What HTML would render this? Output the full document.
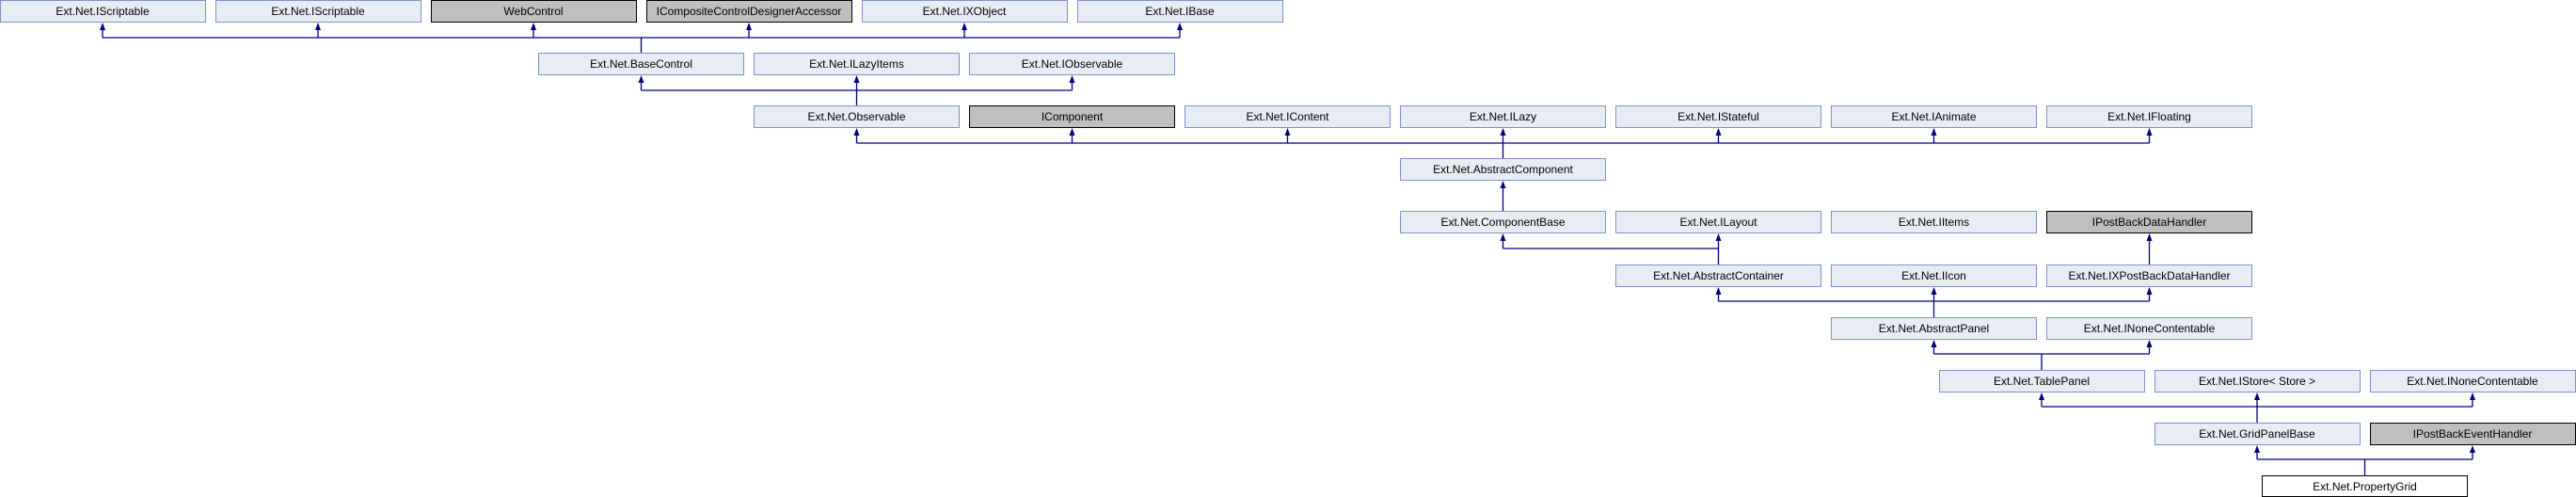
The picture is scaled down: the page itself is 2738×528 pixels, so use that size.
<!DOCTYPE html>
<html><head><meta charset="utf-8"><style>
html,body{margin:0;padding:0;background:#fff;}
svg{display:block;}
text{font-family:"Liberation Sans",Arial,sans-serif;font-size:12px;fill:#000;text-anchor:middle;}
.b{fill:#e8ecf5;stroke:#7f92c9;stroke-width:1;}
.g{fill:#bfbfbf;stroke:#000;stroke-width:1;}
.w{fill:#fff;stroke:#000;stroke-width:1;}
.l{stroke:#00007f;stroke-width:1.3;fill:none;}
.a{fill:#00007f;}
</style></head><body>
<svg width="2738" height="528" viewBox="0 0 2738 528" xmlns="http://www.w3.org/2000/svg">
<defs><polygon id="ar" class="a" points="0,0 -3,8 3,8"/></defs>
<!-- Row 0 -->
<rect class="b" x="0.5" y="0.5" width="218" height="23"/><text x="109" y="16">Ext.Net.IScriptable</text>
<rect class="b" x="229.5" y="0.5" width="218" height="23"/><text x="338" y="16">Ext.Net.IScriptable</text>
<rect class="g" x="458.5" y="0.5" width="218" height="23"/><text x="567" y="16">WebControl</text>
<rect class="g" x="687.5" y="0.5" width="218" height="23"/><text x="796" y="16">ICompositeControlDesignerAccessor</text>
<rect class="b" x="916.5" y="0.5" width="218" height="23"/><text x="1025" y="16">Ext.Net.IXObject</text>
<rect class="b" x="1145.5" y="0.5" width="218" height="23"/><text x="1254" y="16">Ext.Net.IBase</text>
<!-- Row 1 -->
<rect class="b" x="572.5" y="56.5" width="218" height="23"/><text x="681.5" y="72">Ext.Net.BaseControl</text>
<rect class="b" x="801.5" y="56.5" width="218" height="23"/><text x="910.5" y="72">Ext.Net.ILazyItems</text>
<rect class="b" x="1030.5" y="56.5" width="218" height="23"/><text x="1139.5" y="72">Ext.Net.IObservable</text>
<!-- Row 2 -->
<rect class="b" x="801.5" y="112.5" width="218" height="23"/><text x="910.5" y="128">Ext.Net.Observable</text>
<rect class="g" x="1030.5" y="112.5" width="218" height="23"/><text x="1139.5" y="128">IComponent</text>
<rect class="b" x="1259.5" y="112.5" width="218" height="23"/><text x="1368.5" y="128">Ext.Net.IContent</text>
<rect class="b" x="1488.5" y="112.5" width="218" height="23"/><text x="1597.5" y="128">Ext.Net.ILazy</text>
<rect class="b" x="1717.5" y="112.5" width="218" height="23"/><text x="1826.5" y="128">Ext.Net.IStateful</text>
<rect class="b" x="1946.5" y="112.5" width="218" height="23"/><text x="2055.5" y="128">Ext.Net.IAnimate</text>
<rect class="b" x="2175.5" y="112.5" width="218" height="23"/><text x="2284.5" y="128">Ext.Net.IFloating</text>
<!-- Row 3 -->
<rect class="b" x="1488.5" y="168.5" width="218" height="23"/><text x="1597.5" y="184">Ext.Net.AbstractComponent</text>
<!-- Row 4 -->
<rect class="b" x="1488.5" y="224.5" width="218" height="23"/><text x="1597.5" y="240">Ext.Net.ComponentBase</text>
<rect class="b" x="1717.5" y="224.5" width="218" height="23"/><text x="1826.5" y="240">Ext.Net.ILayout</text>
<rect class="b" x="1946.5" y="224.5" width="218" height="23"/><text x="2055.5" y="240">Ext.Net.IItems</text>
<rect class="g" x="2175.5" y="224.5" width="218" height="23"/><text x="2284.5" y="240">IPostBackDataHandler</text>
<!-- Row 5 -->
<rect class="b" x="1717.5" y="281.5" width="218" height="23"/><text x="1826.5" y="297">Ext.Net.AbstractContainer</text>
<rect class="b" x="1946.5" y="281.5" width="218" height="23"/><text x="2055.5" y="297">Ext.Net.IIcon</text>
<rect class="b" x="2175.5" y="281.5" width="218" height="23"/><text x="2284.5" y="297">Ext.Net.IXPostBackDataHandler</text>
<!-- Row 6 -->
<rect class="b" x="1946.5" y="337.5" width="218" height="23"/><text x="2055.5" y="353">Ext.Net.AbstractPanel</text>
<rect class="b" x="2175.5" y="337.5" width="218" height="23"/><text x="2284.5" y="353">Ext.Net.INoneContentable</text>
<!-- Row 7 -->
<rect class="b" x="2061.5" y="393.5" width="218" height="23"/><text x="2170" y="409">Ext.Net.TablePanel</text>
<rect class="b" x="2290.5" y="393.5" width="218" height="23"/><text x="2399" y="409">Ext.Net.IStore&lt; Store &gt;</text>
<rect class="b" x="2519.5" y="393.5" width="218" height="23"/><text x="2628" y="409">Ext.Net.INoneContentable</text>
<!-- Row 8 -->
<rect class="b" x="2290.5" y="449.5" width="218" height="23"/><text x="2399" y="465">Ext.Net.GridPanelBase</text>
<rect class="g" x="2519.5" y="449.5" width="218" height="23"/><text x="2628" y="465">IPostBackEventHandler</text>
<!-- Row 9 -->
<rect class="w" x="2404.5" y="505.5" width="218" height="22"/><text x="2513.5" y="521">Ext.Net.PropertyGrid</text>

<!-- Connectors -->
<path class="l" d="M109,40H1254 M109,26V40 M338,26V40 M567,26V40 M796,26V40 M1025,26V40 M1254,26V40 M681.5,40V56"/>
<use href="#ar" x="109" y="24"/><use href="#ar" x="338" y="24"/><use href="#ar" x="567" y="24"/><use href="#ar" x="796" y="24"/><use href="#ar" x="1025" y="24"/><use href="#ar" x="1254" y="24"/>

<path class="l" d="M681.5,96H1139.5 M681.5,82V96 M910.5,82V112 M1139.5,82V96"/>
<use href="#ar" x="681.5" y="80"/><use href="#ar" x="910.5" y="80"/><use href="#ar" x="1139.5" y="80"/>

<path class="l" d="M910.5,152H2284.5 M910.5,138V152 M1139.5,138V152 M1368.5,138V152 M1597.5,138V168 M1826.5,138V152 M2055.5,138V152 M2284.5,138V152"/>
<use href="#ar" x="910.5" y="136"/><use href="#ar" x="1139.5" y="136"/><use href="#ar" x="1368.5" y="136"/><use href="#ar" x="1597.5" y="136"/><use href="#ar" x="1826.5" y="136"/><use href="#ar" x="2055.5" y="136"/><use href="#ar" x="2284.5" y="136"/>

<path class="l" d="M1597.5,194V224"/><use href="#ar" x="1597.5" y="192"/>

<path class="l" d="M1597.5,264H1826.5 M1597.5,250V264 M1826.5,250V281 M2284.5,250V281"/>
<use href="#ar" x="1597.5" y="248"/><use href="#ar" x="1826.5" y="248"/><use href="#ar" x="2284.5" y="248"/>

<path class="l" d="M1826.5,320H2284.5 M1826.5,307V320 M2055.5,307V337 M2284.5,307V320"/>
<use href="#ar" x="1826.5" y="305"/><use href="#ar" x="2055.5" y="305"/><use href="#ar" x="2284.5" y="305"/>

<path class="l" d="M2055.5,376H2284.5 M2055.5,363V376 M2284.5,363V376 M2170,376V393"/>
<use href="#ar" x="2055.5" y="361"/><use href="#ar" x="2284.5" y="361"/>

<path class="l" d="M2170,432H2628 M2170,419V432 M2399,419V449 M2628,419V432"/>
<use href="#ar" x="2170" y="417"/><use href="#ar" x="2399" y="417"/><use href="#ar" x="2628" y="417"/>

<path class="l" d="M2399,488H2628 M2399,475V488 M2628,475V488 M2513.5,488V505"/>
<use href="#ar" x="2399" y="473"/><use href="#ar" x="2628" y="473"/>
</svg>
</body></html>
